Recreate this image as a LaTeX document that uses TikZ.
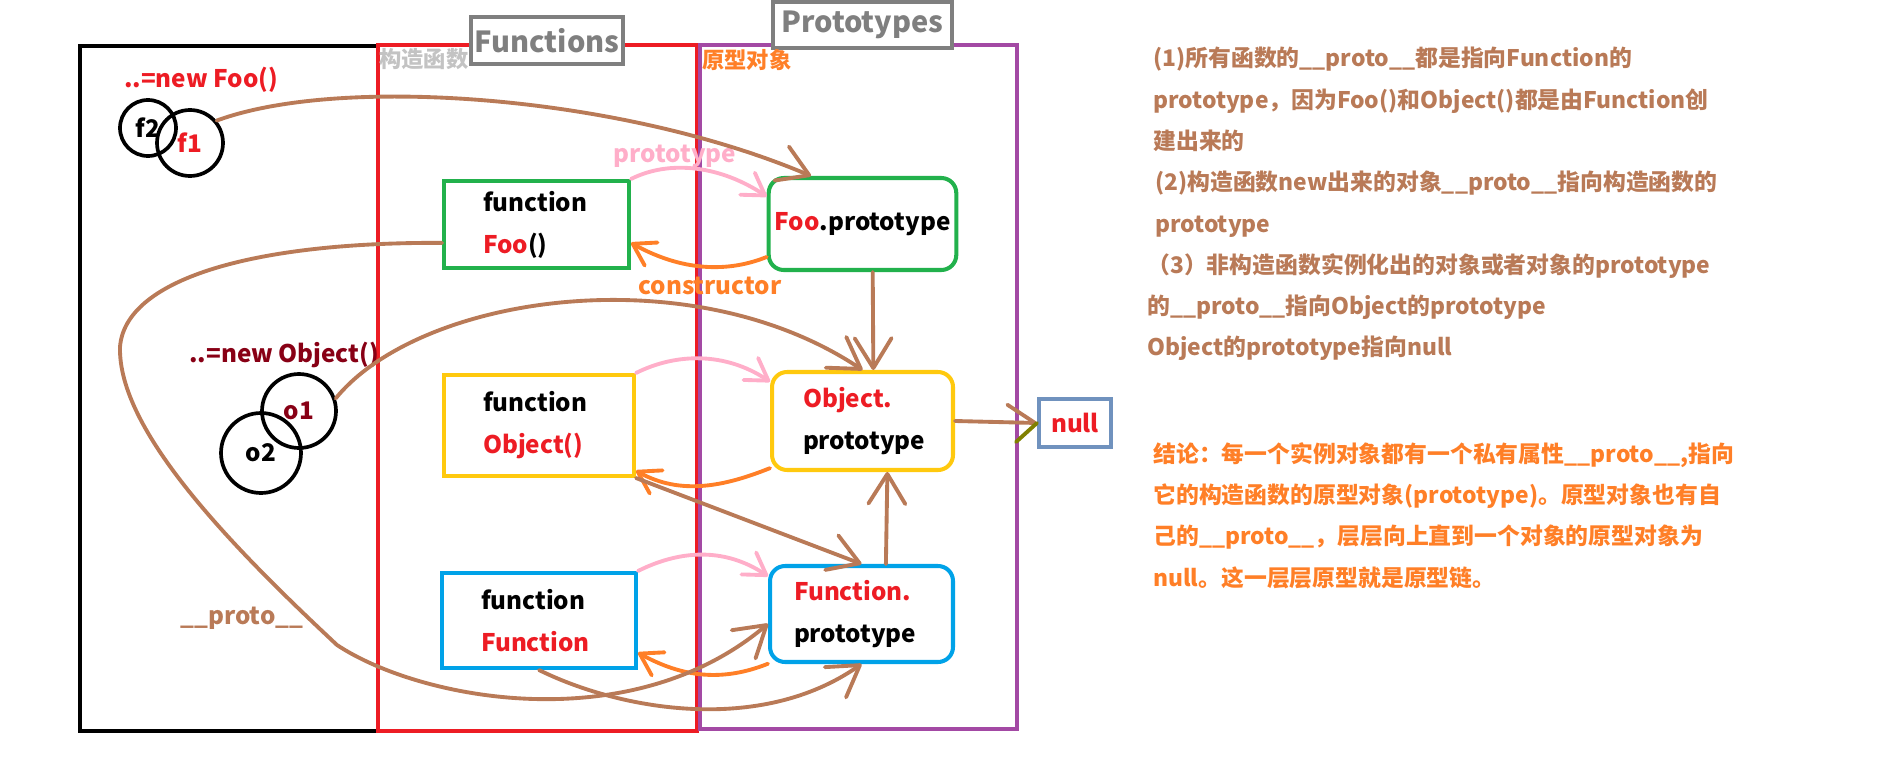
\documentclass[tikz,border=0pt]{standalone}
\usepackage{fontspec}
\setmainfont{Noto Sans CJK SC}
\usetikzlibrary{arrows.meta}
\definecolor{brn}{HTML}{B97A57}
\definecolor{pnk}{HTML}{FFAEC9}
\definecolor{org}{HTML}{FF7F27}
\definecolor{mred}{HTML}{ED1C24}
\definecolor{drkred}{HTML}{880015}
\definecolor{grn}{HTML}{22B14C}
\definecolor{ylw}{HTML}{FFC90E}
\definecolor{blu}{HTML}{00A2E8}
\definecolor{purp}{HTML}{A349A4}
\definecolor{gry}{HTML}{7F7F7F}
\definecolor{ltgry}{HTML}{C3C3C3}
\definecolor{nul}{HTML}{7092BE}
\definecolor{olv}{HTML}{808000}

\begin{document}
\begin{tikzpicture}[x=0.02cm,y=-0.02cm,>={Straight Barb[length=17pt,width=21pt,round]},
  lbl/.style={font=\bfseries\fontsize{13.8}{24}\selectfont},
  fnbox/.style={draw,rectangle,line width=2.3pt,inner xsep=0.78cm,inner ysep=0pt,align=left,lbl},
  protobox/.style={draw,rectangle,rounded corners=0.3cm,line width=2.3pt,inner ysep=0pt,align=left,lbl},
  obj/.style={draw,circle,line width=2.1pt,inner sep=0pt,lbl},
  link/.style={brn,line width=2.2pt,line cap=round,->},
  protolink/.style={pnk,line width=2.2pt,line cap=round,->,>={Straight Barb[length=12pt,width=15pt,round]}},
  ctorlink/.style={org,line width=2.2pt,line cap=round,->,>={Straight Barb[length=12pt,width=15pt,round]}},
  frame/.style={line width=2.4pt},
  tag/.style={draw=gry,fill=white,line width=2.4pt,text=gry,inner sep=0pt,font=\bfseries\fontsize{16.5}{18}\selectfont},
  areacap/.style={anchor=west,inner sep=0pt,font=\bfseries\fontsize{12.7}{14}\selectfont},
  note/.style={align=left,anchor=north west,inner sep=0pt,font=\bfseries\fontsize{13}{23.5}\selectfont}]
\useasboundingbox (0,0) rectangle (1895,757);
%frames
\draw[frame,black] (80,46) rectangle (378,731);
\draw[frame,mred] (378,45) rectangle (697,731);
\draw[frame,purp] (700,45) rectangle (1017,729);
\node[tag,minimum width=3.04cm,minimum height=0.94cm] (fns) at (547,40.5) {Functions};
\node[tag,minimum width=3.58cm,minimum height=0.92cm] (protos) at (862.5,25) {Prototypes};
\node[areacap,text=ltgry] (ctorcap) at (379,59) {构造函数};
\node[areacap,text=org] (protocap) at (702,60) {原型对象};
%instances
\node[lbl,text=mred] (newfoo) at (201,80) {..=new Foo()};
\node[obj,minimum size=1.12cm] (f2) at (148,128) {f2};
\node[obj,minimum size=1.32cm,text=mred] (f1) at (190,143) {f1};
\node[lbl,text=drkred] (newobj) at (284,355) {..=new Object()};
\node[obj,minimum size=1.48cm,text=drkred] (o1) at (299,411) {o1};
\node[obj,minimum size=1.6cm] (o2) at (261,453) {o2};
%constructors
\node[fnbox,draw=grn,text width=2.14cm,minimum height=1.74cm] (fooF) at (536.5,224.5)
     {function\\\textcolor{mred}{Foo}()};
\node[fnbox,draw=ylw,text width=2.24cm,minimum height=2.02cm] (objF) at (539,425.5)
     {function\\\textcolor{mred}{Object()}};
\node[fnbox,draw=blu,text width=2.32cm,minimum height=1.9cm] (funF) at (539,620.5)
     {function\\\textcolor{mred}{Function}};
%prototypes
\node[protobox,draw=grn,minimum width=3.7cm,minimum height=1.84cm,align=center] (fooP) at (862.5,224)
     {\textcolor{mred}{Foo}.prototype};
\node[protobox,draw=ylw,text width=2.38cm,inner xsep=0.62cm,minimum height=1.96cm] (objP) at (862.5,421)
     {\textcolor{mred}{Object.}\\prototype};
\node[protobox,draw=blu,text width=2.7cm,inner xsep=0.48cm,minimum height=1.92cm] (funP) at (861.5,614)
     {\textcolor{mred}{Function.}\\prototype};
\node[draw=nul,line width=2.3pt,minimum width=1.44cm,minimum height=0.96cm,inner sep=0pt,lbl,text=mred] (nullbox) at (1075,423) {null};
%prototype links
\foreach \src/\dst/\da in {fooF/fooP/164, objF/objP/157, funF/funP/158}
{
  \draw[protolink] (\src.north east) .. controls +(40,-20) and +(-45,-30) .. (\dst.\da);
}
\node[lbl,text=pnk] (protolbl) at (675,156) {prototype};
%constructor links
\foreach \src/\sa/\dst/\da in {fooP/199/fooF/-11, objP/207/objF/-25, funP/208/funF/-18}
{
  \draw[ctorlink] (\src.\sa) .. controls +(-45,18) and +(45,25) .. (\dst.\da);
}
\node[lbl,text=org] (ctorlbl) at (710,286) {constructor};
%__proto__ links
\draw[link] (f1.40) .. controls (340,75) and (620,95) .. (fooP.137);
\draw[link] (o1.19) .. controls (420,295) and (690,255) .. (objP.north);
\draw[link] (fooF.191) .. controls (250,242) and (125,280) .. (120,347)
  .. controls (118,430) and (230,545) .. (337,645)
  .. controls (420,700) and (630,740) .. (funP.186);
\draw[link] (objF.south east) -- (funP.north);
\draw[link] (funF.south) .. controls (620,710) and (760,735) .. (funP.south);
\draw[link] (fooP.-78) -- (objP.78);
\draw[link] (funP.64) -- (objP.-64);
\draw[link,-{Straight Barb[left,length=16pt,width=20pt,round]}] (objP.east) -- (nullbox.west);
\draw[olv,line width=2.2pt,line cap=round] (nullbox.west) -- ++(-21,19);
\node[lbl,text=brn] (protoptr) at (242,618) {\_\_proto\_\_};
%notes
\node[note,text=brn] (rules) at (1147,47)
     {\hspace*{3.4pt}(1)所有函数的\_\_proto\_\_都是指向Function的\\
      \hspace*{3.4pt}prototype，因为Foo()和Object()都是由Function创\\
      \hspace*{3.4pt}建出来的\\
      \hspace*{4.5pt}(2)构造函数new出来的对象\_\_proto\_\_指向构造函数的\\
      \hspace*{4.5pt}prototype\\
      （3）非构造函数实例化出的对象或者对象的prototype\\
      的\_\_proto\_\_指向Object的prototype\\
      Object的prototype指向null};
\node[note,text=org] (summary) at (1153,442)
     {结论：每一个实例对象都有一个私有属性\_\_proto\_\_,指向\\
      它的构造函数的原型对象(prototype)。原型对象也有自\\
      己的\_\_proto\_\_，层层向上直到一个对象的原型对象为\\
      null。这一层层原型就是原型链。};
\end{tikzpicture}
\end{document}
